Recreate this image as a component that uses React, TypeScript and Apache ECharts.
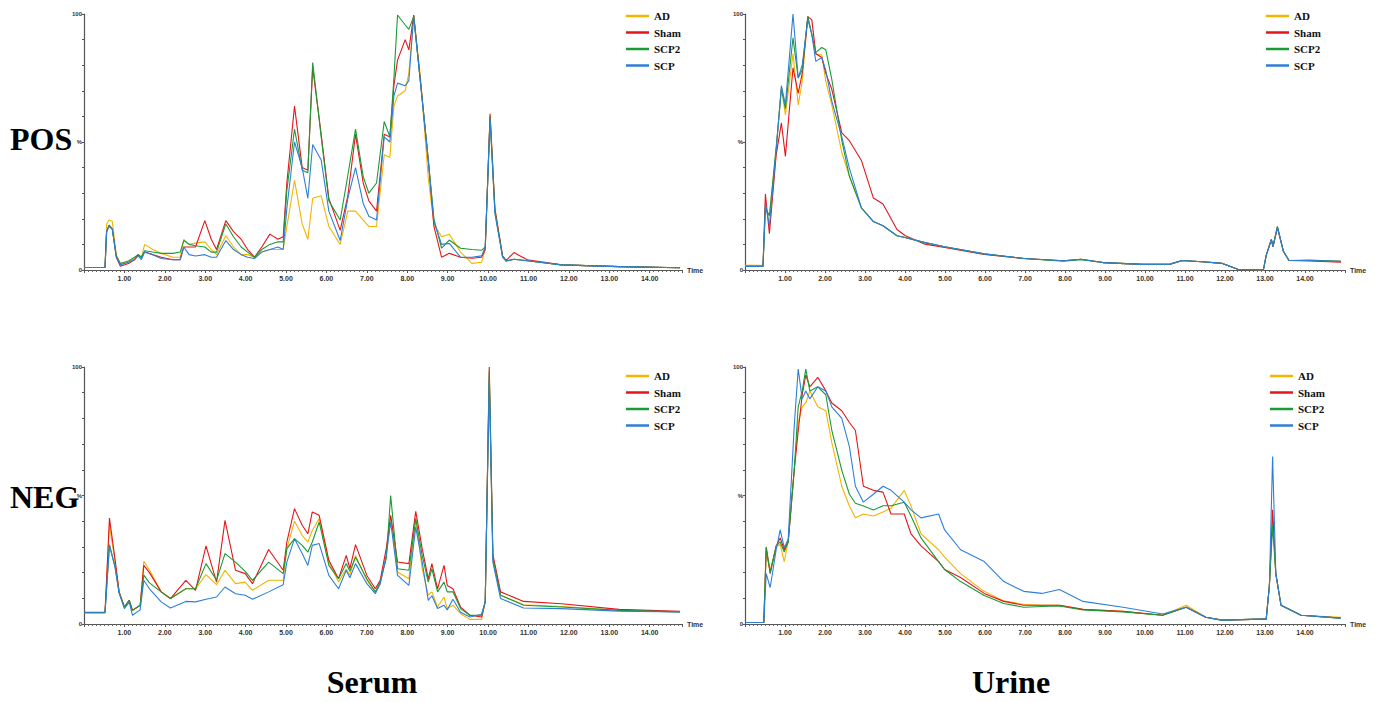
import React, { useEffect, useRef } from "react";
import * as echarts from "echarts";

const groups = ["AD", "Sham", "SCP2", "SCP"];
const groupColors = ["#F5B400", "#E3161C", "#1A9B35", "#2E7FD8"];

// ---- Serum POS ----
const serumPosTime = [0, 0.52, 0.56, 0.62, 0.7, 0.8, 0.9, 1.1, 1.25, 1.34, 1.42, 1.5, 1.7, 1.91, 2.2, 2.38, 2.47, 2.6, 2.76, 2.99, 3.15, 3.28, 3.51, 3.7, 3.89, 4.05, 4.22, 4.4, 4.6, 4.8, 4.93, 5.02, 5.21, 5.4, 5.54, 5.66, 5.87, 6.06, 6.34, 6.53, 6.72, 6.91, 7.05, 7.24, 7.43, 7.57, 7.67, 7.76, 7.95, 8.04, 8.16, 8.33, 8.52, 8.66, 8.85, 9.04, 9.32, 9.6, 9.84, 9.93, 10.05, 10.17, 10.36, 10.45, 10.64, 10.97, 11.82, 13.24, 14.75];
const serumPosAD = [1, 1, 18, 19.5, 19, 6, 2.5, 3, 4.5, 6, 4.5, 10, 8, 6.5, 5, 5, 12, 10, 10.5, 11, 8, 6, 13.5, 9, 6, 6, 5, 7, 8, 8, 8, 17, 35, 18, 12, 28, 29, 17, 10, 23, 23, 19.5, 17, 17, 45, 44, 64, 68, 70, 77, 99.6, 75, 36, 18, 13, 14, 7, 2.6, 3, 8, 60, 23, 5.2, 3.5, 4.2, 3.6, 2, 1.3, 0.9];
const serumPosSham = [1, 1, 15, 17.5, 16, 5, 1.5, 2.5, 4, 6, 5, 7, 6, 5, 4, 4, 9, 9, 9, 19.3, 12, 8, 19.3, 15, 12, 8, 5, 9, 14, 12, 13, 34, 64, 40, 39, 79, 53, 28, 15.5, 29, 53, 34, 27, 23, 53, 52, 72, 82, 90, 86, 99.6, 73, 43, 17, 5, 6.5, 5, 4.6, 5, 8, 61, 24, 5.5, 3.8, 6.8, 4, 2, 1.3, 0.9];
const serumPosSCP2 = [1, 1, 15, 17.5, 16, 5.5, 2.5, 3.5, 5, 6, 5, 7.5, 7, 6.5, 6.5, 7, 11.5, 10, 9.5, 9, 7, 7, 18, 13, 9, 7, 5, 8, 10, 11, 11, 31, 55, 39, 38, 81, 52, 27, 19.5, 37, 55, 36.5, 30, 34, 58, 52, 75, 99.6, 95.7, 94, 99, 73, 43, 20, 8.5, 11.7, 8.5, 8, 7.7, 9, 60, 23, 5.2, 3.5, 4.2, 3.6, 2, 1.3, 0.9];
const serumPosSCP = [1, 1, 15, 17, 16, 5, 2, 3, 4, 5.5, 4, 7, 6, 4.5, 4, 4, 9, 6, 5.5, 6, 5, 5, 11.5, 8, 6, 5, 4.5, 7, 8, 9, 8, 24, 50, 40, 28, 49, 43, 23, 11.5, 28, 40, 26, 21, 19.5, 52, 50, 68, 73, 72, 74, 99, 73, 43, 19, 10, 10.4, 5, 5, 5.5, 9, 59, 22, 5, 3.5, 4.2, 3.6, 2, 1.3, 0.9];

// ---- Serum NEG ----
const serumNegTime = [0, 0.52, 0.63, 0.77, 0.87, 1.0, 1.12, 1.2, 1.39, 1.48, 1.62, 1.91, 2.14, 2.52, 2.76, 3.02, 3.28, 3.49, 3.75, 3.99, 4.17, 4.57, 4.93, 5.02, 5.21, 5.4, 5.54, 5.65, 5.82, 6.06, 6.3, 6.49, 6.58, 6.72, 7.0, 7.21, 7.33, 7.48, 7.59, 7.76, 8.04, 8.21, 8.37, 8.52, 8.61, 8.75, 8.91, 8.99, 9.13, 9.32, 9.55, 9.84, 9.93, 10.03, 10.12, 10.31, 10.88, 11.82, 13.24, 14.75];
const serumNegAD = [4.4, 4.4, 38.4, 24, 12.5, 6.6, 9.2, 5.3, 7.3, 24.4, 21, 12.5, 9.9, 13.7, 13.7, 19.2, 15.3, 20.9, 15.7, 16.3, 13.1, 17, 17, 29.3, 40, 34.5, 31.9, 36.4, 41, 24.1, 16.3, 21.5, 19, 26.7, 17, 12.5, 15.3, 27, 41.6, 20.2, 17.6, 41, 21.5, 11.2, 12.5, 6.6, 10.5, 6, 7.3, 4, 1.8, 1.8, 8.6, 97, 25.4, 11.2, 7.5, 6.8, 5.3, 4.7];
const serumNegSham = [4.6, 4.6, 41.2, 25, 12.5, 6.6, 9.2, 5.3, 7.3, 22.8, 20, 12.5, 9.9, 17, 13.1, 30.4, 16.3, 40.3, 20.9, 19.6, 15.7, 29, 20.9, 31.9, 44.9, 38.4, 35.1, 43.6, 42.3, 24.8, 17.6, 26.7, 21.5, 30.9, 18.9, 13.7, 17, 29.3, 42.3, 24.1, 23.5, 43.8, 29.3, 17.6, 23.5, 13.7, 22.8, 15, 13.7, 6.6, 3.4, 2.7, 8.6, 100, 27, 12.5, 8.8, 7.9, 5.7, 4.9];
const serumNegSCP2 = [4.4, 4.4, 30.6, 22, 12, 6.6, 9.2, 5.3, 7.3, 19, 16, 12.5, 9.9, 13.7, 13.7, 23.5, 17, 27.4, 24.1, 20.5, 17, 24.1, 19.6, 29.3, 33.2, 30.6, 28, 31.9, 39.7, 22.8, 17.6, 23.5, 20.5, 26, 17.6, 12.5, 16.3, 25.4, 50, 21.5, 20.9, 41, 26.7, 16.3, 21.5, 12.5, 16.3, 12.5, 12.5, 6, 3.4, 3.4, 8.6, 98.5, 25.4, 11.2, 7.3, 6.6, 5.3, 4.7];
const serumNegSCP = [4.4, 4.4, 30.9, 22, 12, 6, 8.5, 3.4, 5.5, 17, 13.7, 8.6, 6.2, 8.8, 8.6, 9.6, 10.5, 14.4, 11.8, 11.2, 9.6, 12.5, 15.3, 24.1, 33.2, 27.4, 22.8, 30.6, 31.3, 18.9, 13.7, 20.9, 18, 23.5, 15.7, 11.8, 15.7, 26.5, 39.7, 18.9, 15, 37.7, 24.1, 9.2, 11, 6, 7.3, 5.5, 9.6, 4.6, 2.7, 3.8, 8.6, 95, 24, 9.9, 6.2, 6, 5, 4.7];

// ---- Urine POS ----
const urinePosTime = [0, 0.45, 0.51, 0.61, 0.78, 0.91, 1.01, 1.2, 1.33, 1.43, 1.57, 1.67, 1.77, 1.92, 2.02, 2.17, 2.42, 2.61, 2.91, 3.21, 3.45, 3.8, 4.0, 4.5, 4.99, 5.98, 6.97, 7.96, 8.4, 8.95, 9.94, 10.63, 10.93, 11.52, 11.92, 12.32, 12.96, 13.03, 13.16, 13.2, 13.31, 13.46, 13.6, 14.1, 14.9];
const urinePosAD = [1.8, 1.8, 24.3, 21, 47, 71.4, 60.6, 84.5, 64.5, 73.7, 99, 92, 84.5, 84, 73.7, 64.5, 45.9, 36.6, 24.3, 18.9, 17.3, 13.4, 12.7, 10.7, 9.1, 6.3, 4.5, 3.6, 4.2, 2.9, 2.2, 2.3, 3.7, 3.1, 2.6, 0.3, 0, 5.7, 11.9, 9.1, 16.8, 7.3, 3.7, 3.7, 3.4];
const urinePosSham = [1.4, 1.4, 29.7, 14.2, 45, 57.5, 44.4, 79, 69, 76.8, 99, 97.7, 84.5, 83, 76.8, 70.6, 53.6, 50.5, 42.8, 28.1, 25.8, 15.8, 13.5, 10.1, 8.8, 6.1, 4.5, 3.6, 4.2, 2.9, 2.2, 2.3, 3.7, 3.1, 2.6, 0.3, 0, 5.7, 11.9, 9.1, 16.5, 7.3, 3.7, 3.5, 3.0];
const urinePosSCP2 = [1.4, 1.4, 24.3, 21.2, 48, 70.6, 63, 90.7, 75, 78, 99, 92, 85, 86.9, 86, 74.5, 50.5, 36.6, 24.3, 18.9, 17.3, 13.4, 12.7, 10.7, 9.1, 6.3, 4.5, 3.4, 4.0, 2.9, 2.2, 2.3, 3.7, 3.1, 2.6, 0.3, 0, 5.7, 11.9, 9.1, 17, 7.3, 3.7, 3.9, 3.4];
const urinePosSCP = [1.4, 1.4, 25.8, 17.3, 47, 72, 64.5, 100, 75, 80, 98, 92, 81.5, 83, 78, 66, 52, 39.7, 24.3, 18.9, 17.3, 13.4, 12.7, 10.7, 9.1, 6.3, 4.5, 3.6, 4.2, 2.9, 2.2, 2.3, 3.7, 3.1, 2.6, 0.3, 0, 5.7, 11.9, 9.1, 16.8, 7.3, 3.7, 3.7, 3.4];

// ---- Urine NEG ----
const urineNegTime = [0, 0.47, 0.53, 0.63, 0.78, 0.88, 0.98, 1.08, 1.23, 1.33, 1.43, 1.52, 1.62, 1.82, 2.02, 2.17, 2.42, 2.61, 2.76, 2.96, 3.21, 3.45, 3.65, 3.98, 4.15, 4.4, 4.84, 4.99, 5.39, 5.98, 6.47, 6.97, 7.42, 7.86, 8.45, 9.45, 10.44, 11.03, 11.52, 11.92, 12.91, 13.03, 13.11, 13.19, 13.27, 13.4, 13.9, 14.89];
const urineNegAD = [0.6, 0.6, 27.4, 21, 30, 31, 24.3, 32, 59.8, 78.4, 84.5, 86, 90.7, 84.5, 83, 70.6, 53.6, 45.9, 41.3, 42.8, 42, 43.6, 45.1, 52, 45.9, 35.1, 28.9, 26, 19.6, 12.7, 9, 7.6, 7.3, 7.3, 5.7, 4.9, 3.4, 7.3, 2.6, 1.5, 1.9, 1.9, 15, 41.3, 19.6, 7.3, 3.4, 2.6];
const urineNegSham = [0.6, 0.6, 30, 19.6, 30.4, 33.5, 28.9, 32, 59.8, 75, 89.2, 96.9, 92.3, 96, 90.7, 86, 83, 78.4, 75.3, 53.6, 52, 51.3, 42.8, 42.8, 35.1, 30.4, 24.3, 21.2, 18.1, 11.9, 8.8, 7.3, 7.3, 7.3, 5.7, 4.9, 3.4, 6.5, 2.6, 1.5, 1.9, 1.9, 15, 44.4, 19.6, 7.3, 3.4, 2.3];
const urineNegSCP2 = [0.6, 0.6, 29.7, 20, 30.4, 32, 28, 32, 59.8, 84.5, 90.7, 99.2, 90.7, 92.3, 89.2, 75.3, 59.8, 50.5, 47, 45.9, 44.4, 46, 46, 47.4, 42, 33.5, 24.3, 21.2, 16.5, 11.1, 8, 6.5, 6.8, 7, 5.5, 4.7, 3.4, 6.5, 2.6, 1.5, 1.9, 1.9, 15, 38.2, 19.6, 7.3, 3.4, 2.3];
const urineNegSCP = [0.6, 0.6, 19.6, 14.2, 29, 36.6, 29.7, 33, 76.8, 99.2, 87.6, 90.7, 87.6, 92.3, 90.7, 84.5, 80, 69, 53.6, 47.4, 50.5, 53.6, 52, 47.4, 44.4, 41.3, 42.8, 36.6, 28.9, 24.3, 16.5, 12.7, 11.9, 13.4, 8.8, 6.5, 3.9, 6.5, 2.6, 1.5, 1.9, 1.9, 15, 65.2, 19.6, 7.3, 3.4, 2.3];

const panels = [
  { time: serumPosTime, values: [serumPosAD, serumPosSham, serumPosSCP2, serumPosSCP] },
  { time: urinePosTime, values: [urinePosAD, urinePosSham, urinePosSCP2, urinePosSCP] },
  { time: serumNegTime, values: [serumNegAD, serumNegSham, serumNegSCP2, serumNegSCP] },
  { time: urineNegTime, values: [urineNegAD, urineNegSham, urineNegSCP2, urineNegSCP] },
];

const gridBoxes = [
  { left: 84, top: 14, width: 598, height: 256 },
  { left: 745, top: 14, width: 600, height: 256 },
  { left: 84, top: 367, width: 598, height: 257 },
  { left: 745, top: 367, width: 600, height: 257 },
];
const xMaxes = [14.8, 15, 14.8, 15];
const legendBoxes = [
  { left: 626, top: 10 },
  { left: 1266, top: 10 },
  { left: 626, top: 370 },
  { left: 1270, top: 370 },
];

function makeX(gridIndex: number, max: number) {
  return {
    type: "value",
    gridIndex,
    min: 0,
    max,
    interval: 1,
    name: "Time",
    nameLocation: "end",
    nameGap: 5,
    nameTextStyle: { fontSize: 7, color: "#333", fontFamily: "Liberation Sans", fontWeight: "bold" },
    axisLine: { show: true, onZero: false, lineStyle: { color: "#555", width: 1 } },
    axisTick: { show: true, length: 3, lineStyle: { color: "#555" } },
    minorTick: { show: true, splitNumber: 10, length: 2, lineStyle: { color: "#666" } },
    splitLine: { show: false },
    axisLabel: {
      fontSize: 7,
      color: "#333",
      margin: 5,
      fontFamily: "Liberation Sans",
      fontWeight: "bold",
      formatter: (v: number) =>
        v === 0 || v > 14.5 || Math.abs(v - Math.round(v)) > 1e-6 ? "" : v.toFixed(2),
    },
  };
}

function makeY(gridIndex: number) {
  return {
    type: "value",
    gridIndex,
    min: 0,
    max: 100,
    interval: 10,
    axisLine: { show: true, lineStyle: { color: "#555", width: 1.2 } },
    axisTick: { show: true, length: 2, lineStyle: { color: "#555" } },
    splitLine: { show: false },
    axisLabel: {
      fontSize: 6,
      color: "#333",
      margin: 2,
      fontFamily: "Liberation Sans",
      fontWeight: "bold",
      formatter: (v: number) => (v === 100 ? "100" : v === 50 ? "%" : v === 0 ? "0" : ""),
    },
  };
}

export default function App() {
  const ref = useRef<HTMLDivElement>(null);
  useEffect(() => {
    if (!ref.current) return;
    const chart = echarts.init(ref.current, undefined, { renderer: "svg" });
    const series: any[] = [];
    panels.forEach((p, pi) => {
      p.values.forEach((vals, gi) => {
        series.push({
          name: groups[gi],
          type: "line",
          xAxisIndex: pi,
          yAxisIndex: pi,
          data: p.time.map((t, i) => [t, vals[i]]),
          showSymbol: false,
          symbol: "none",
          lineStyle: { width: 1.1, color: groupColors[gi] },
          itemStyle: { color: groupColors[gi] },
          z: 2,
        });
      });
    });
    chart.setOption({
      animation: false,
      backgroundColor: "#ffffff",
      grid: gridBoxes.map((g) => ({ ...g, containLabel: false })),
      xAxis: gridBoxes.map((_, i) => makeX(i, xMaxes[i])),
      yAxis: gridBoxes.map((_, i) => makeY(i)),
      legend: legendBoxes.map((l) => ({
        data: groups,
        orient: "vertical",
        left: l.left,
        top: l.top,
        padding: 0,
        itemWidth: 23,
        itemHeight: 2.5,
        itemGap: 4.5,
        icon: "rect",
        selectedMode: false,
        textStyle: { fontFamily: "Liberation Serif", fontWeight: "bold", fontSize: 11, color: "#111", lineHeight: 12 },
      })),
      graphic: [
        { type: "text", x: 10, y: 139, style: { text: "POS", font: 'bold 32px "Liberation Serif"', fill: "#000", verticalAlign: "middle", align: "left" } },
        { type: "text", x: 10, y: 497, style: { text: "NEG", font: 'bold 32px "Liberation Serif"', fill: "#000", verticalAlign: "middle", align: "left" } },
        { type: "text", x: 372, y: 682, style: { text: "Serum", font: 'bold 32px "Liberation Serif"', fill: "#000", verticalAlign: "middle", align: "center" } },
        { type: "text", x: 1011, y: 682, style: { text: "Urine", font: 'bold 32px "Liberation Serif"', fill: "#000", verticalAlign: "middle", align: "center" } },
      ],
      series,
    });
    return () => chart.dispose();
  }, []);
  return <div ref={ref} style={{ position: "absolute", left: 0, top: 0, width: 1375, height: 702, background: "#fff" }} />;
}
